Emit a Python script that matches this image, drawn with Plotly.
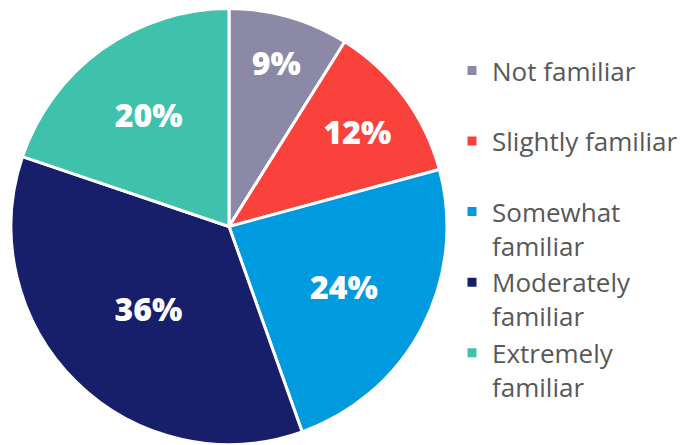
import plotly.graph_objects as go

categories = ["Not familiar", "Slightly familiar", "Somewhat<br>familiar",
              "Moderately<br>familiar", "Extremely<br>familiar"]
values = [9, 12, 24, 36, 20]
colors = ["#8C89A6", "#F8423B", "#009ADE", "#171E6A", "#40C1AC"]

legend_labels = [c if "<br>" in c else c + "<br> " for c in categories]

fig = go.Figure(go.Pie(
    labels=legend_labels,
    values=values,
    sort=False,
    direction="clockwise",
    rotation=0,
    marker=dict(colors=colors, line=dict(color="white", width=3)),
    texttemplate="%{value}%",
    textposition="inside",
    insidetextorientation="horizontal",
    textfont=dict(family="Open Sans", size=32, color="white", weight=800),
    domain=dict(x=[11/700, 447/700], y=[0, 0.982]),
    hoverinfo="label+percent",
))

fig.update_layout(
    width=700, height=445,
    margin=dict(l=0, r=0, t=0, b=0),
    paper_bgcolor="white",
    showlegend=True,
    legend=dict(
        x=452/700, y=1 - 47/445, xanchor="left", yanchor="top",
        font=dict(family="Open Sans", size=26, color="#585858"),
        valign="top",
        itemwidth=30,
    ),
)

fig.write_html("out.html")
